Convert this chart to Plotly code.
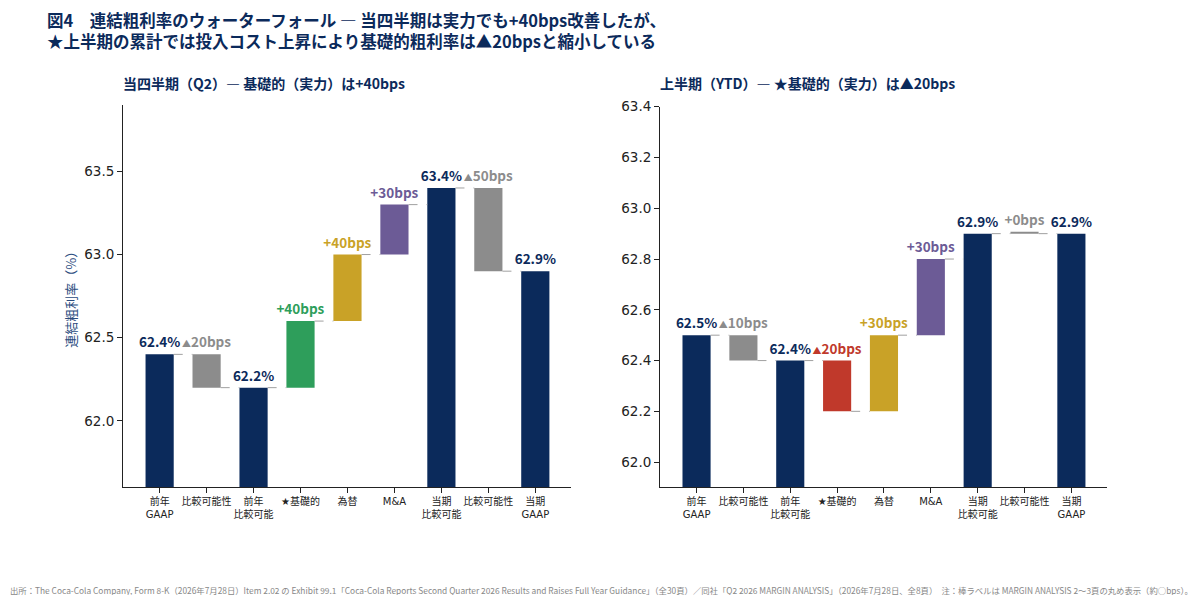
import plotly.graph_objects as go

NAVY = "#0B2A5B"
GRAY = "#8C8C8C"
GREEN = "#2E9E5B"
GOLD = "#C9A227"
PURPLE = "#6C5B96"
RED = "#C0392B"

# Categories (x tick labels)
steps = ["前年<br>GAAP", "比較可能性", "前年<br>比較可能", "★基礎的", "為替", "M&A",
         "当期<br>比較可能", "比較可能性", "当期<br>GAAP"]
kinds = ["total", "delta", "total", "delta", "delta", "delta", "total", "delta", "total"]

# Q2 (当四半期)
q2_values = [62.4, -0.2, 62.2, 0.4, 0.4, 0.3, 63.4, -0.5, 62.9]
q2_colors = [NAVY, GRAY, NAVY, GREEN, GOLD, PURPLE, NAVY, GRAY, NAVY]

# YTD (上半期)
ytd_values = [62.5, -0.1, 62.4, -0.2, 0.3, 0.3, 62.9, 0.0, 62.9]
ytd_colors = [NAVY, GRAY, NAVY, RED, GOLD, PURPLE, NAVY, GRAY, NAVY]

FONT = "DejaVu Sans, Noto Sans CJK JP"
JP = "Noto Sans CJK JP"
BAR_W = 0.6

# page body has an 8px margin, so the figure is a bit smaller than the window
W, H, OFF = 1184, 587, 8


def px(x):
    return (x - OFF) / W


def py(y):
    return 1 - (y - OFF) / H


def waterfall(values, colors, xa, ya):
    bases, heights, texts, level_end = [], [], [], []
    level = None
    for k, v in zip(kinds, values):
        if k == "total":
            bases.append(0)
            heights.append(v)
            texts.append(f"<b>{v:.1f}%</b>")
            level = v
        else:
            start, end = level, level + v
            bases.append(min(start, end))
            heights.append(max(abs(v), 0.004))
            bps = round(v * 100)
            if bps >= 0:
                texts.append(f"<b>+{bps}bps</b>")
            else:
                texts.append(f"<span style='font-size:9px'>▲</span><b>{-bps}bps</b>")
            level = end
        level_end.append(level)
    xs = list(range(len(values)))
    bar = go.Bar(x=xs, y=heights, base=bases, width=BAR_W,
                 marker=dict(color=colors, line=dict(width=0)),
                 text=texts, textposition="outside", textangle=0,
                 constraintext="none", cliponaxis=False,
                 textfont=dict(color=colors, size=13.5, family=JP),
                 xaxis=xa, yaxis=ya, showlegend=False, hoverinfo="skip")
    cx, cy = [], []
    for i in range(len(values) - 1):
        cx += [i + BAR_W / 2, i + 1 - BAR_W / 2, None]
        cy += [level_end[i], level_end[i], None]
    conn = go.Scatter(x=cx, y=cy, mode="lines",
                      line=dict(color="#A0A0A0", width=1, dash="dash"),
                      xaxis=xa, yaxis=ya, showlegend=False, hoverinfo="skip")
    return [conn, bar]


fig = go.Figure()
fig.add_traces(waterfall(q2_values, q2_colors, "x", "y"))
fig.add_traces(waterfall(ytd_values, ytd_colors, "x2", "y2"))

xcommon = dict(tickmode="array", tickvals=list(range(len(steps))), ticktext=steps,
               range=[-0.78, 8.76], showline=True, linecolor="#222", linewidth=1,
               ticks="outside", ticklen=5, tickcolor="#222", tickangle=0,
               tickfont=dict(size=10, color="#222", family=FONT),
               showgrid=False, zeroline=False, fixedrange=True)
ycommon = dict(showline=True, linecolor="#222", linewidth=1, ticks="outside",
               ticklen=5, tickcolor="#222", tickfont=dict(size=13.5, color="#222", family=FONT),
               showgrid=False, zeroline=False, fixedrange=True)

fig.update_layout(
    width=W, height=H, margin=dict(l=0, r=0, t=0, b=0),
    plot_bgcolor="white", paper_bgcolor="white",
    font=dict(family=FONT, color="#222"),
    xaxis=dict(domain=[px(123), px(571)], anchor="y", **xcommon),
    xaxis2=dict(domain=[px(660), px(1107)], anchor="y2", **xcommon),
    yaxis=dict(domain=[py(486), py(98)], anchor="x", range=[61.6, 63.9],
               tickvals=[62.0, 62.5, 63.0, 63.5], tickformat=".1f",
               title=dict(text="連結粗利率（%）", font=dict(size=13, color="#2B4C7E", family=JP),
                          standoff=4),
               **ycommon),
    yaxis2=dict(domain=[py(486), py(100)], anchor="x2", range=[61.9, 63.4],
                tickvals=[62.0, 62.2, 62.4, 62.6, 62.8, 63.0, 63.2, 63.4], tickformat=".1f",
                **ycommon),
)

annots = [
    dict(text="<b>図4　連結粗利率のウォーターフォール ― 当四半期は実力でも+40bps改善したが、<br>"
              "★上半期の累計では投入コスト上昇により基礎的粗利率は▲20bpsと縮小している</b>",
         x=px(45), y=py(23), xanchor="left", yanchor="middle", align="left",
         font=dict(size=16.5, color=NAVY, family=JP)),
    dict(text="<b>当四半期（Q2）― 基礎的（実力）は+40bps</b>",
         x=px(121), y=py(76), xanchor="left", yanchor="middle",
         font=dict(size=14, color=NAVY, family=JP)),
    dict(text="<b>上半期（YTD）― ★基礎的（実力）は▲20bps</b>",
         x=px(658), y=py(76), xanchor="left", yanchor="middle",
         font=dict(size=14, color=NAVY, family=JP)),
    dict(text="出所：The Coca-Cola Company, Form 8-K（2026年7月28日）Item 2.02 の Exhibit 99.1「Coca-Cola Reports Second Quarter 2026 Results and Raises Full Year Guidance」（全30頁）／同社「Q2 2026 MARGIN ANALYSIS」（2026年7月28日、全8頁）　注：棒ラベルは MARGIN ANALYSIS 2～3頁の丸め表示（約○bps）。",
         x=px(8), y=py(590), xanchor="left", yanchor="middle",
         font=dict(size=8.35, color="#888", family=JP)),
]
for a in annots:
    fig.add_annotation(xref="paper", yref="paper", showarrow=False, **a)

fig.write_html("out.html")
